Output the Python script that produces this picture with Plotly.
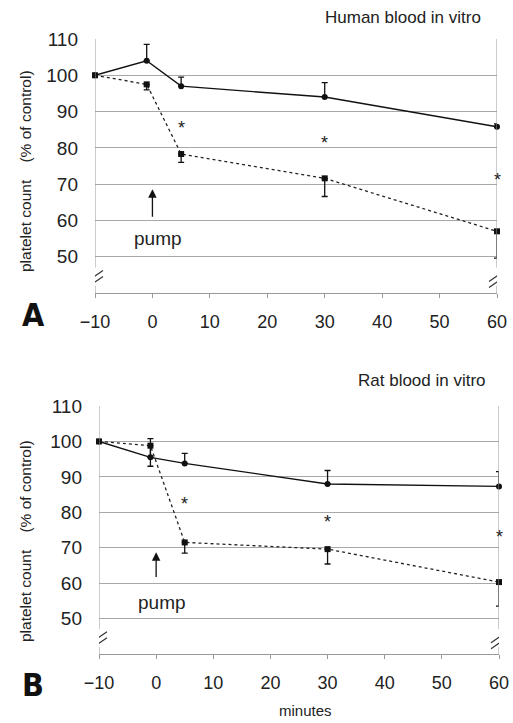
import plotly.graph_objects as go

# ---- data ----
minutes = [-10, -1, 5, 30, 60]

# Panel A: human blood in vitro
human_ctrl = [100, 104, 97, 94, 85.8]
human_ctrl_err = [0, 4.5, 2.5, 4.0, 0.8]
human_pump = [100, 97.5, 78.3, 71.6, 57.0]
human_pump_err = [0, 1.5, 2.3, 5.0, 7.4]
human_sig_x = [5, 30, 60]
human_sig_y = [85.5, 81.4, 71.2]

# Panel B: rat blood in vitro
rat_ctrl = [100, 95.5, 93.8, 88.0, 87.3]
rat_ctrl_err = [0, 5.3, 2.8, 3.8, 4.2]
rat_pump = [100, 98.8, 71.5, 69.6, 60.3]
rat_pump_err = [0, 5.8, 3.0, 4.2, 6.8]
rat_sig_x = [5, 30, 60]
rat_sig_y = [82.4, 77.3, 73.0]

x_ticks = [-10, 0, 10, 20, 30, 40, 50, 60]
y_ticks = [50, 60, 70, 80, 90, 100, 110]

W, H = 513, 723
FONT = "Liberation Sans, Arial, sans-serif"
GRID = "#a8a8a8"


def px(v):
    return v / W


def py(v):
    return 1 - v / H


fig = go.Figure()


def add_panel(xa, ya, ctrl, ctrl_err, pump, pump_err):
    zeros = [0] * len(minutes)
    fig.add_trace(go.Scatter(
        x=minutes, y=ctrl, xaxis=xa, yaxis=ya, mode="lines+markers",
        line=dict(color="#111", width=1.4),
        marker=dict(symbol="circle", size=6, color="#111"),
        error_y=dict(type="data", symmetric=False, array=ctrl_err, arrayminus=zeros,
                     width=3, thickness=1.3, color="#111"),
        cliponaxis=False, showlegend=False))
    fig.add_trace(go.Scatter(
        x=minutes, y=pump, xaxis=xa, yaxis=ya, mode="lines+markers",
        line=dict(color="#222", width=1.3, dash="dot"),
        marker=dict(symbol="square", size=6, color="#111"),
        error_y=dict(type="data", symmetric=False, array=zeros, arrayminus=pump_err,
                     width=3, thickness=1.3, color="#111"),
        cliponaxis=False, showlegend=False))


add_panel("x", "y", human_ctrl, human_ctrl_err, human_pump, human_pump_err)
add_panel("x2", "y2", rat_ctrl, rat_ctrl_err, rat_pump, rat_pump_err)

axis_common = dict(range=[-10, 60], tickvals=x_ticks, showgrid=False, zeroline=False,
                   showline=True, linecolor="#999", linewidth=1, ticks="outside",
                   ticklen=4, tickcolor="#999", ticklabelstandoff=8, automargin=False,
                   ticklabeloverflow="allow",
                   tickfont=dict(family=FONT, size=18, color="#222"))
yaxis_common = dict(range=[40, 110], tickvals=y_ticks, showgrid=True, gridcolor=GRID,
                    gridwidth=1, zeroline=False, showline=False, ticks="",
                    ticklabelstandoff=16, automargin=False, ticklabeloverflow="allow",
                    tickfont=dict(family=FONT, size=19, color="#222"))

fig.update_layout(
    width=W, height=H, margin=dict(l=0, r=0, t=0, b=0, autoexpand=False),
    paper_bgcolor="white", plot_bgcolor="white",
    xaxis=dict(domain=[px(95), px(497)], anchor="y", **axis_common),
    yaxis=dict(domain=[py(293), py(39)], anchor="x", **yaxis_common),
    xaxis2=dict(domain=[px(99), px(499)], anchor="y2", **axis_common),
    yaxis2=dict(domain=[py(654), py(406)], anchor="x2", **yaxis_common),
)

shapes = []
annotations = []
for xr, yr, sig_x, sig_y in [("x", "y", human_sig_x, human_sig_y),
                             ("x2", "y2", rat_sig_x, rat_sig_y)]:
    for xv in (-10, 60):
        shapes.append(dict(type="line", xref=xr, yref=yr, x0=xv, x1=xv, y0=110, y1=47,
                           line=dict(color="#999", width=1)))
        shapes.append(dict(type="line", xref=xr, yref=yr, x0=xv, x1=xv, y0=42, y1=40,
                           line=dict(color="#999", width=1)))
        for dy in (-6, 0):
            shapes.append(dict(type="line", xref=xr, yref=yr, xsizemode="pixel",
                               ysizemode="pixel", xanchor=xv, yanchor=44,
                               x0=-8, x1=8, y0=-3 + dy, y1=8 + dy,
                               line=dict(color="#333", width=1.2)))
    for sx, sy in zip(sig_x, sig_y):
        annotations.append(dict(x=sx, y=sy, xref=xr, yref=yr, text="*", showarrow=False,
                                xanchor="center", yanchor="middle",
                                font=dict(family=FONT, size=18, color="#222")))

# pump arrows and labels
annotations += [
    dict(x=0, y=68.6, ax=0, ay=60.6, xref="x", yref="y", axref="x", ayref="y",
         text="", showarrow=True, arrowhead=2, arrowsize=1.3, arrowwidth=1.3, arrowcolor="#111"),
    dict(x=1, y=55, xref="x", yref="y", text="pump", showarrow=False,
         xanchor="center", yanchor="middle",
         font=dict(family=FONT, size=19, color="#222")),
    dict(x=0, y=68.7, ax=0, ay=61.3, xref="x2", yref="y2", axref="x2", ayref="y2",
         text="", showarrow=True, arrowhead=2, arrowsize=1.3, arrowwidth=1.3, arrowcolor="#111"),
    dict(x=1, y=54.6, xref="x2", yref="y2", text="pump", showarrow=False,
         xanchor="center", yanchor="middle",
         font=dict(family=FONT, size=19, color="#222")),
]

# titles and labels
ytitle = "platelet count\u00a0\u00a0\u00a0\u00a0(% of control)"
LETTER = "DejaVu Sans Condensed, Liberation Sans Narrow, Arial"


def label(x, y, text, size, family=FONT, angle=0, color="#222"):
    return dict(x=px(x), y=py(y), xref="paper", yref="paper", text=text, textangle=angle,
                xanchor="center", yanchor="middle", showarrow=False,
                font=dict(family=family, size=size, color=color))


annotations += [
    label(403, 17, "Human blood in vitro", 17),
    label(422, 380, "Rat blood in vitro", 17),
    label(25, 171, ytitle, 15.5, angle=-90),
    label(25, 541, ytitle, 15.5, angle=-90),
    label(33, 315, "<b>A</b>", 32, family=LETTER, color="#111"),
    label(33, 685, "<b>B</b>", 32, family=LETTER, color="#111"),
    label(305, 710, "minutes", 15),
]

fig.update_layout(shapes=shapes, annotations=annotations)
fig.write_html(
    "out.html",
    config={"displayModeBar": False},
    post_script="document.body.style.margin='0';document.body.style.overflow='hidden';",
)
